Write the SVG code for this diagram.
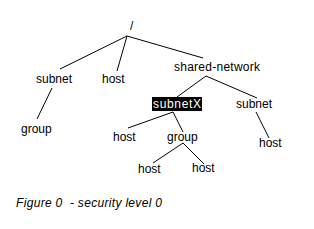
<svg xmlns="http://www.w3.org/2000/svg" width="314" height="229" viewBox="0 0 314 229">
<style>
.t{font-family:"Liberation Sans",Arial,sans-serif;font-size:12px;fill:#000}
.w{fill:#fff}
.c{stroke:#000;stroke-width:1;fill:none}
.cap{font-family:"Liberation Sans",Arial,sans-serif;font-size:12px;font-style:italic;fill:#000}
</style>
<rect width="314" height="229" fill="#fff"/>
<g id="connectors" class="c">
<line x1="127" y1="36" x2="60" y2="69"/>
<line x1="127" y1="36" x2="117" y2="71"/>
<line x1="127" y1="36" x2="203" y2="58"/>
<line x1="52" y1="88" x2="37" y2="119"/>
<line x1="206" y1="76" x2="177" y2="97"/>
<line x1="206" y1="76" x2="257" y2="98"/>
<line x1="173" y1="112" x2="183" y2="132"/>
<line x1="173" y1="112" x2="128" y2="128"/>
<line x1="183" y1="143" x2="153" y2="163"/>
<line x1="183" y1="143" x2="204" y2="164"/>
<line x1="256" y1="112" x2="269" y2="138"/>
</g>
<g id="root"><text class="t" x="130" y="30">/</text></g>
<g id="subnet1"><text class="t" x="36" y="83">subnet</text></g>
<g id="host1"><text class="t" x="102" y="83">host</text></g>
<g id="shared-network"><text class="t" x="174" y="71" textLength="86">shared-network</text></g>
<g id="group1"><text class="t" x="21" y="133">group</text></g>
<g id="subnetX"><rect x="152" y="97" width="50" height="14" fill="#000"/><text class="t w" x="153" y="108" textLength="48">subnetX</text></g>
<g id="subnet2"><text class="t" x="236" y="108">subnet</text></g>
<g id="host2"><text class="t" x="113" y="141">host</text></g>
<g id="group2"><text class="t" x="167" y="141">group</text></g>
<g id="host3"><text class="t" x="138" y="173">host</text></g>
<g id="host4"><text class="t" x="192" y="172">host</text></g>
<g id="host5"><text class="t" x="259" y="147">host</text></g>
<g id="caption"><text class="cap" x="16" y="207" xml:space="preserve" textLength="146">Figure 0  - security level 0</text></g>
</svg>
